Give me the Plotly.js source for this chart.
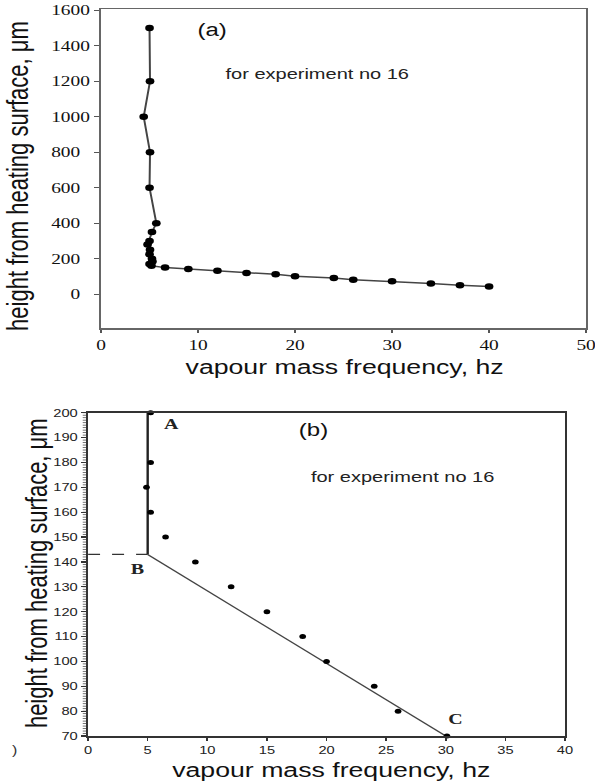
<!DOCTYPE html>
<html>
<head>
<meta charset="utf-8">
<script src="https://cdn.plot.ly/plotly-3.0.1.min.js"></script>
<style>
  html, body { margin: 0; padding: 0; background: #ffffff; overflow: hidden; }
  #wrap { width: 595px; height: 783px; overflow: hidden; }
  #plot { width: 446px; height: 783px; transform: scaleX(1.33408); transform-origin: 0 0; }
</style>
</head>
<body>
<div id="wrap"><div id="plot"></div></div>
<script>
// ---------- data: chart (a) ----------
const topFreq   = [5.0, 5.05, 4.4, 5.05, 5.0, 5.7, 5.25, 5.0, 4.8, 5.05, 5.0, 5.25, 5.3, 5.0, 5.2, 6.6, 9.0, 12.0, 15.0, 18.0, 20.0, 24.0, 26.0, 30.0, 34.0, 37.0, 40.0];
const topHeight = [1500, 1200, 1000, 800, 600, 400, 350, 300, 280, 250, 225, 200, 185, 170, 160, 150, 142, 132, 120, 112, 101, 92, 82, 73, 60, 51, 43];
const topXTicks = [0, 10, 20, 30, 40, 50];
const topYTicks = [0, 200, 400, 600, 800, 1000, 1200, 1400, 1600];
const topYTickText = ['0\u2002', '200\u2002', '400\u2002', '600\u2002', '800\u2002', '1000', '1200', '1400', '1600'];

// ---------- data: chart (b) ----------
const botFreq   = [5.25, 5.25, 4.9, 5.25, 6.5, 9.0, 12.0, 15.0, 18.0, 20.0, 24.0, 26.0, 30.1];
const botHeight = [200, 180, 170, 160, 150, 140, 130, 120, 110, 100, 90, 80, 70];
const modelFreq   = [5, 5, 30];
const modelHeight = [200, 143, 70];
const dashFreq   = [0, 5];
const dashHeight = [143, 143];
const pointLabels = ['A', 'B', 'C'];
const pointLabelX = [7.0, 4.1, 30.85];
const pointLabelY = [195.5, 137, 76.8];
const botXTicks = [0, 5, 10, 15, 20, 25, 30, 35, 40];
const botYTicks = [70, 80, 90, 100, 110, 120, 130, 140, 150, 160, 170, 180, 190, 200];

const xTitle = 'vapour mass frequency, hz';
const yTitle = 'height from heating surface, \u03bcm';
const noteText = 'for experiment no 16';

const sans = '"Liberation Sans", Arial, Helvetica, sans-serif';
const serif = '"Liberation Serif", "Times New Roman", serif';

const traces = [
  {
    x: topFreq, y: topHeight, xaxis: 'x', yaxis: 'y',
    type: 'scatter', mode: 'lines+markers', cliponaxis: false,
    line: { color: '#444444', width: 1.5 },
    marker: { color: '#000000', size: 6.5, symbol: 'circle' },
    hoverinfo: 'skip', showlegend: false
  },
  {
    x: dashFreq, y: dashHeight, xaxis: 'x2', yaxis: 'y2',
    type: 'scatter', mode: 'lines', cliponaxis: false,
    line: { color: '#333333', width: 1.3, dash: 'dash' },
    hoverinfo: 'skip', showlegend: false
  },
  {
    x: modelFreq.slice(0, 2), y: modelHeight.slice(0, 2), xaxis: 'x2', yaxis: 'y2',
    type: 'scatter', mode: 'lines', cliponaxis: false,
    line: { color: '#222222', width: 1.8 },
    hoverinfo: 'skip', showlegend: false
  },
  {
    x: modelFreq.slice(1), y: modelHeight.slice(1), xaxis: 'x2', yaxis: 'y2',
    type: 'scatter', mode: 'lines', cliponaxis: false,
    line: { color: '#444444', width: 1.2 },
    hoverinfo: 'skip', showlegend: false
  },
  {
    x: botFreq, y: botHeight, xaxis: 'x2', yaxis: 'y2',
    type: 'scatter', mode: 'markers', cliponaxis: false,
    marker: { color: '#000000', size: 5, symbol: 'circle' },
    hoverinfo: 'skip', showlegend: false
  }
];

const annotations = [
  { xref: 'paper', yref: 'paper', x: 0.5798, y: 0.5313, text: xTitle, showarrow: false,
    xanchor: 'center', yanchor: 'middle', font: { family: sans, size: 20, color: '#111111' } },
  { xref: 'paper', yref: 'paper', x: 0.0291, y: 0.7752, text: yTitle, showarrow: false, textangle: -90,
    xanchor: 'center', yanchor: 'middle', font: { family: sans, size: 22, color: '#111111' } },
  { xref: 'paper', yref: 'paper', x: 0.5563, y: 0.0166, text: xTitle, showarrow: false,
    xanchor: 'center', yanchor: 'middle', font: { family: sans, size: 20, color: '#111111' } },
  { xref: 'paper', yref: 'paper', x: 0.0621, y: 0.2676, text: yTitle, showarrow: false, textangle: -90,
    xanchor: 'center', yanchor: 'middle', font: { family: sans, size: 22, color: '#111111' } },
  { xref: 'x', yref: 'y', x: 11.4, y: 1491, text: '(a)', showarrow: false,
    xanchor: 'center', yanchor: 'middle', font: { family: sans, size: 18, color: '#111111' } },
  { xref: 'x', yref: 'y', x: 22.3, y: 1243, text: noteText, showarrow: false,
    xanchor: 'center', yanchor: 'middle', font: { family: sans, size: 15, color: '#222222' } },
  { xref: 'x2', yref: 'y2', x: 18.9, y: 193, text: '(b)', showarrow: false,
    xanchor: 'center', yanchor: 'middle', font: { family: sans, size: 18, color: '#111111' } },
  { xref: 'x2', yref: 'y2', x: 26.4, y: 174.3, text: noteText, showarrow: false,
    xanchor: 'center', yanchor: 'middle', font: { family: sans, size: 15, color: '#222222' } },
  { xref: 'paper', yref: 'paper', x: 0.025, y: 0.042, text: ')', showarrow: false,
    xanchor: 'center', yanchor: 'middle', font: { family: sans, size: 12, color: '#333333' } }
];
for (let i = 0; i < pointLabels.length; i++) {
  annotations.push({
    xref: 'x2', yref: 'y2', x: pointLabelX[i], y: pointLabelY[i], text: '<b>' + pointLabels[i] + '</b>',
    showarrow: false, xanchor: 'center', yanchor: 'middle',
    font: { family: serif, size: 15, color: '#222222' }
  });
}

const layout = {
  width: 446, height: 783,
  margin: { l: 0, r: 0, t: 0, b: 0, pad: 0 },
  paper_bgcolor: '#ffffff', plot_bgcolor: '#ffffff',
  showlegend: false,
  xaxis: {
    domain: [0.1698, 0.9850], anchor: 'y', range: [0, 50], automargin: false,
    tickvals: topXTicks, ticktext: topXTicks.map(String), ticklabeloverflow: 'allow',
    ticks: 'outside', ticklen: 3, tickwidth: 1, tickcolor: '#555555',
    showline: true, linecolor: '#666666', linewidth: 1.5, mirror: true,
    showgrid: false, zeroline: false,
    tickfont: { family: serif, size: 14.5, color: '#111111' }
  },
  yaxis: {
    domain: [0.5807, 0.9885], anchor: 'x', range: [-192, 1607], automargin: false,
    tickvals: topYTicks, ticktext: topYTickText,
    ticks: 'outside', ticklen: 4, tickwidth: 1, tickcolor: '#555555',
    showline: true, linecolor: '#666666', linewidth: 1.5, mirror: true,
    showgrid: false, zeroline: false,
    tickfont: { family: serif, size: 14.5, color: '#111111' }
  },
  xaxis2: {
    domain: [0.1480, 0.9496], anchor: 'y2', range: [0, 40], automargin: false,
    tickvals: botXTicks, ticktext: botXTicks.map(String),
    ticks: 'outside', ticklen: 3, tickwidth: 1.2, tickcolor: '#333333',
    showline: true, linecolor: '#333333', linewidth: 1.5, mirror: true,
    showgrid: false, zeroline: false,
    tickfont: { family: sans, size: 11, color: '#222222' }
  },
  yaxis2: {
    domain: [0.0600, 0.4729], anchor: 'x2', range: [70, 200], automargin: false,
    tickvals: botYTicks, ticktext: botYTicks.map(String),
    ticks: 'outside', ticklen: 4, tickwidth: 1.2, tickcolor: '#333333',
    minor: { dtick: 1, ticks: 'outside', ticklen: 2.5, tickwidth: 0.8, tickcolor: '#555555', showgrid: false },
    showline: true, linecolor: '#333333', linewidth: 1.5, mirror: true,
    showgrid: false, zeroline: false,
    tickfont: { family: sans, size: 11, color: '#222222' }
  },
  annotations: annotations
};

Plotly.newPlot('plot', traces, layout, { staticPlot: true, displayModeBar: false });
</script>
</body>
</html>
